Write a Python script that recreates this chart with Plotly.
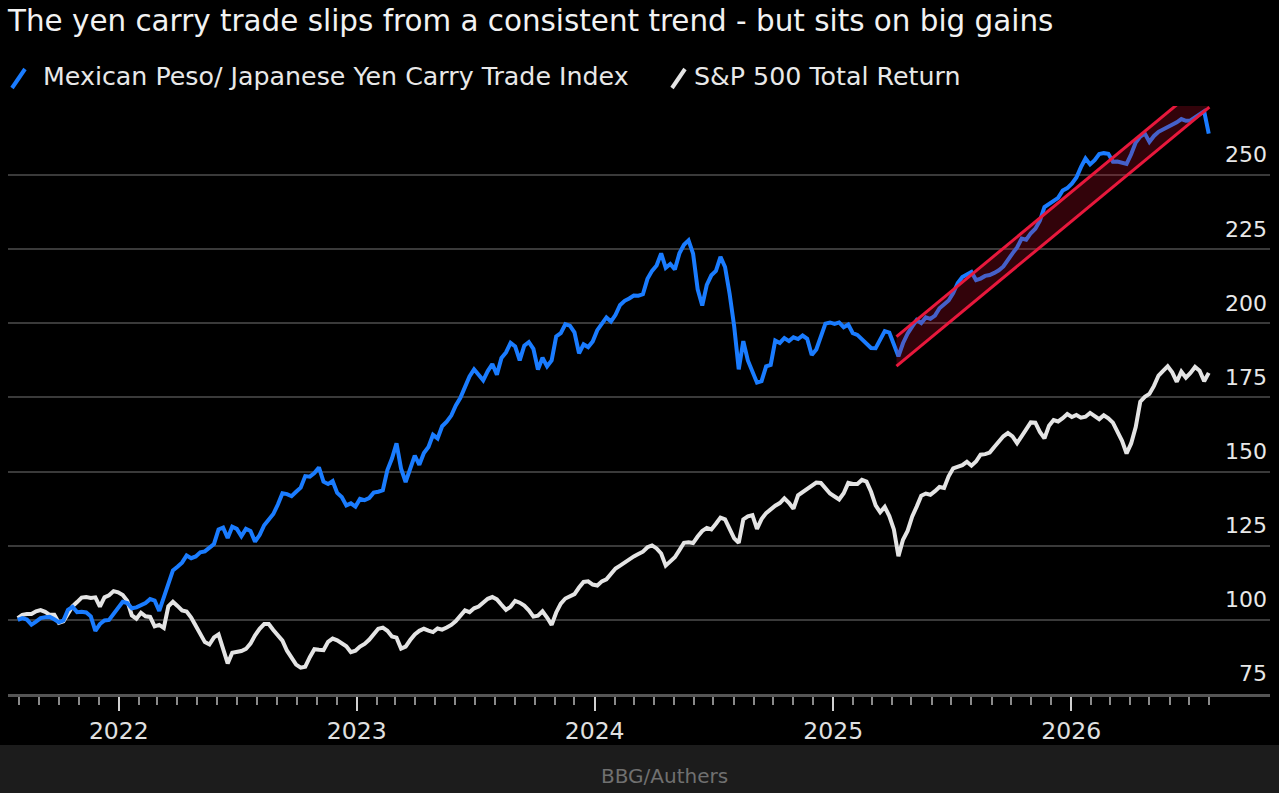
import pandas as pd
import plotly.graph_objects as go

# weekly closes, rebased to 100 at the start
start_date = "2021-07-30"

carry_index = [
    100.0, 100.6, 100.1, 98.4, 99.4, 100.6, 100.9, 101.0, 100.2, 99.2,
    99.8, 103.4, 104.4, 102.6, 102.7, 102.5, 101.2, 96.3, 98.6, 99.8,
    100.0, 102.0, 104.0, 106.1, 105.7, 103.9, 104.2, 105.0, 105.7, 107.0,
    106.5, 103.0, 107.8, 113.0, 116.7, 117.9, 119.3, 121.7, 120.8, 121.4,
    122.8, 123.1, 124.3, 125.6, 130.5, 131.1, 127.6, 131.4, 130.7, 128.2,
    130.7, 130.0, 126.4, 128.6, 131.9, 133.9, 135.7, 138.9, 142.7, 142.4,
    141.7, 143.2, 144.6, 148.5, 148.3, 149.5, 151.4, 146.6, 145.8, 146.8,
    142.8, 141.4, 138.6, 139.3, 138.2, 140.8, 140.4, 141.1, 142.9, 143.2,
    143.7, 150.5, 154.4, 159.5, 151.0, 146.5, 151.5, 155.4, 152.3, 156.3,
    158.3, 162.4, 161.2, 165.3, 166.8, 168.9, 172.3, 174.9, 178.5, 182.1,
    184.5, 182.4, 180.8, 183.9, 186.3, 182.7, 188.3, 190.2, 193.4, 192.2,
    187.5, 192.5, 193.7, 191.4, 184.4, 188.4, 185.5, 187.5, 195.6, 196.7,
    199.7, 199.2, 197.0, 189.9, 192.9, 192.0, 193.9, 197.7, 200.0, 202.0,
    200.6, 202.9, 206.2, 207.6, 208.4, 209.4, 209.3, 209.8, 215.0, 217.7,
    219.5, 223.6, 218.7, 220.0, 218.2, 223.6, 226.5, 228.0, 223.5, 211.5,
    206.0, 213.0, 216.2, 217.7, 222.4, 219.0, 210.0, 199.0, 184.5, 194.0,
    187.5, 184.0, 180.0, 180.5, 185.5, 186.0, 194.2, 193.4, 195.0, 194.0,
    195.3, 194.7, 195.9, 194.8, 189.3, 191.2, 195.8, 199.9, 200.3, 199.8,
    200.3, 198.7, 199.6, 196.7, 196.1, 194.6, 193.5, 191.7, 191.6, 194.7,
    197.4, 196.9, 193.0, 188.9, 193.3, 196.5, 198.9, 201.1, 200.1, 202.0,
    201.5, 202.6, 205.1, 206.6, 207.7, 210.2, 213.6, 215.6, 216.3, 217.3,
    214.6, 215.1, 216.0, 216.3, 217.0, 217.9, 219.2, 221.6, 223.6, 225.6,
    228.6, 228.2, 230.4, 231.9, 234.6, 239.2, 240.3, 241.1, 242.3, 244.8,
    245.6, 247.1, 249.2, 252.7, 255.6, 253.6, 255.0, 257.1, 257.4, 257.2,
    254.5, 254.6, 254.3, 253.8, 257.0, 261.0, 263.0, 264.0, 261.2, 263.2,
    264.6, 265.4, 266.2, 266.9, 267.8, 268.9, 268.3, 268.4, 269.5, 270.3,
    271.5, 264.0,
]

spx_total_return = [
    100.6, 101.7, 102.0, 102.0, 102.9, 103.3, 102.7, 101.7, 101.7, 99.0,
    99.5, 102.4, 104.6, 106.0, 107.5, 107.7, 107.4, 107.6, 104.5, 107.6,
    108.3, 109.7, 109.3, 108.4, 106.4, 101.5, 100.4, 102.4, 101.2, 101.0,
    97.8, 98.3, 97.3, 104.6, 106.1, 104.7, 103.2, 102.8, 100.8, 98.0,
    95.2, 92.5, 91.7, 94.1, 95.1, 90.0, 85.3, 88.9, 89.1, 89.5,
    90.2, 92.0, 94.8, 97.0, 98.6, 98.6, 96.6, 94.6, 93.0, 89.6,
    87.5, 84.9, 83.9, 84.2, 87.4, 90.1, 89.9, 89.8, 92.6, 93.7,
    93.1, 92.0, 91.1, 89.1, 89.6, 91.0, 91.9, 93.3, 95.4, 97.0,
    97.4, 96.3, 94.4, 94.0, 90.3, 91.0, 93.2, 95.1, 96.3, 97.0,
    96.4, 95.9, 97.1, 96.7, 97.4, 98.3, 99.6, 101.5, 103.2, 102.6,
    103.9, 104.5, 106.0, 107.1, 107.7, 106.9, 105.1, 103.4, 104.4, 106.4,
    105.8, 104.8, 103.2, 101.1, 101.4, 102.9, 100.8, 98.3, 102.5, 105.5,
    107.2, 107.8, 108.7, 110.9, 112.8, 113.0, 111.9, 111.6, 113.0, 113.7,
    115.6, 117.3, 118.3, 119.4, 120.4, 121.4, 122.2, 123.0, 124.5, 125.1,
    124.1, 122.4, 118.3, 119.8, 121.1, 123.5, 126.0, 126.2, 125.9, 128.1,
    130.0, 131.0, 130.5, 132.4, 134.5, 133.9, 131.0, 127.5, 126.0, 133.9,
    134.9, 135.3, 130.7, 134.0, 136.0, 137.3, 138.5, 139.4, 141.0, 139.5,
    137.5, 142.0, 143.1, 143.9, 145.4, 146.3, 146.2, 144.5, 142.6, 141.6,
    140.6, 142.7, 146.2, 145.8, 145.8, 147.2, 146.6, 143.2, 138.6, 136.3,
    138.1, 135.0, 130.5, 121.5, 127.0, 130.0, 134.8, 138.2, 141.9, 142.6,
    142.2, 143.4, 144.8, 144.5, 148.4, 151.1, 151.7, 152.2, 153.3, 152.0,
    153.4, 155.7, 155.9, 156.4, 158.3, 159.9, 161.9, 163.0, 161.9, 159.6,
    162.0, 164.6, 166.6, 166.5, 163.4, 161.2, 165.5, 167.4, 166.9, 168.0,
    169.4, 168.4, 169.1, 168.2, 168.5, 169.8, 168.7, 167.7, 169.0, 168.0,
    166.5, 163.5, 160.4, 156.1, 159.5, 165.0, 173.6, 175.2, 176.2, 178.9,
    182.4, 184.0, 185.5, 183.5, 180.3, 183.7, 181.7, 183.3, 185.3, 184.0,
    180.5, 183.3,
]

# trend channel drawn over the carry index
channel_dates = ["2025-04-08", "2026-08-01"]
channel_lower = [185.6, 272.9]
channel_upper = [195.5, 282.8]

y_ticks = [75, 100, 125, 150, 175, 200, 225, 250]
year_ticks = ["2022-01-01", "2023-01-01", "2024-01-01", "2025-01-01", "2026-01-01"]
year_labels = ["2022", "2023", "2024", "2025", "2026"]

title = "The yen carry trade slips from a consistent trend - but sits on big gains"
carry_name = "Mexican Peso/ Japanese Yen Carry Trade Index"
spx_name = "S&P 500 Total Return"
source = "BBG/Authers"

BLUE = "#1a7cff"
WHITE = "#e4e4e4"
RED = "#e8183c"
FONT = "DejaVu Sans"

dates = pd.date_range(start_date, periods=len(carry_index), freq="7D")

W, H = 1279, 793
L, R, T, B = 8, 9, 106, 99
plot_h = H - T - B
plot_w = W - L - R


def px(x):
    return (x - L) / plot_w


def py(y):
    return (H - B - y) / plot_h


fig = go.Figure()

fig.add_trace(go.Scatter(x=dates, y=spx_total_return, mode="lines", name=spx_name,
                         line=dict(color=WHITE, width=4)))
fig.add_trace(go.Scatter(x=dates, y=carry_index, mode="lines", name=carry_name,
                         line=dict(color=BLUE, width=4)))
fig.add_trace(go.Scatter(x=channel_dates, y=channel_lower, mode="lines",
                         line=dict(color=RED, width=3), showlegend=False))
fig.add_trace(go.Scatter(x=channel_dates, y=channel_upper, mode="lines",
                         line=dict(color=RED, width=3), fill="tonexty",
                         fillcolor="rgba(200,10,40,0.25)", showlegend=False))

# footer band
fig.add_shape(type="rect", xref="paper", yref="paper", x0=px(0), x1=px(W),
              y0=py(H), y1=py(745), fillcolor="#1c1c1c", line=dict(width=0),
              layer="below")

# legend slashes
fig.add_shape(type="line", xref="paper", yref="paper", x0=px(12), y0=py(88),
              x1=px(25), y1=py(69), line=dict(color=BLUE, width=4))
fig.add_shape(type="line", xref="paper", yref="paper", x0=px(672), y0=py(88),
              x1=px(685), y1=py(69), line=dict(color=WHITE, width=4))

annotations = [
    dict(text=title, x=px(5), y=py(21), xanchor="left", yanchor="middle",
         font=dict(size=29.4, color="#f2f2f2")),
    dict(text=carry_name, x=px(41), y=py(77), xanchor="left", yanchor="middle",
         font=dict(size=25.3, color="#e8e8e8")),
    dict(text=spx_name, x=px(692), y=py(77), xanchor="left", yanchor="middle",
         font=dict(size=25.3, color="#e8e8e8")),
    dict(text=source, x=px(664), y=py(776), xanchor="center", yanchor="middle",
         font=dict(size=20, color="#707070")),
]
for a in annotations:
    a.update(xref="paper", yref="paper", showarrow=False)

fig.update_layout(
    width=W, height=H,
    margin=dict(l=L, r=R, t=T, b=B),
    paper_bgcolor="black", plot_bgcolor="black",
    font=dict(family=FONT, color="#e0e0e0"),
    showlegend=False,
    annotations=annotations,
    xaxis=dict(
        type="date", range=["2021-07-15", "2026-11-02"],
        tickvals=year_ticks, ticktext=year_labels,
        ticks="outside", ticklen=14, tickwidth=2, tickcolor="#d0d0d0",
        tickfont=dict(size=23.5, color="#e0e0e0"),
        showgrid=False, zeroline=False,
        showline=True, linecolor="#555555", linewidth=3,
        minor=dict(dtick="M1", tick0="2021-08-01", ticks="outside",
                   ticklen=8, tickwidth=1.5, tickcolor="#8a8a8a", showgrid=False),
    ),
    yaxis=dict(
        side="right", range=[75, 273.3], tickvals=y_ticks,
        ticklabelposition="inside top", ticklabelshift=-5,
        tickfont=dict(size=22, color="#e8e8e8"),
        showgrid=True, gridcolor="#3a3a3a", gridwidth=2,
        zeroline=False, showline=False, ticks="",
    ),
)

fig.write_html("out.html", config={"displayModeBar": False},
               post_script="document.body.style.margin = '0';")
